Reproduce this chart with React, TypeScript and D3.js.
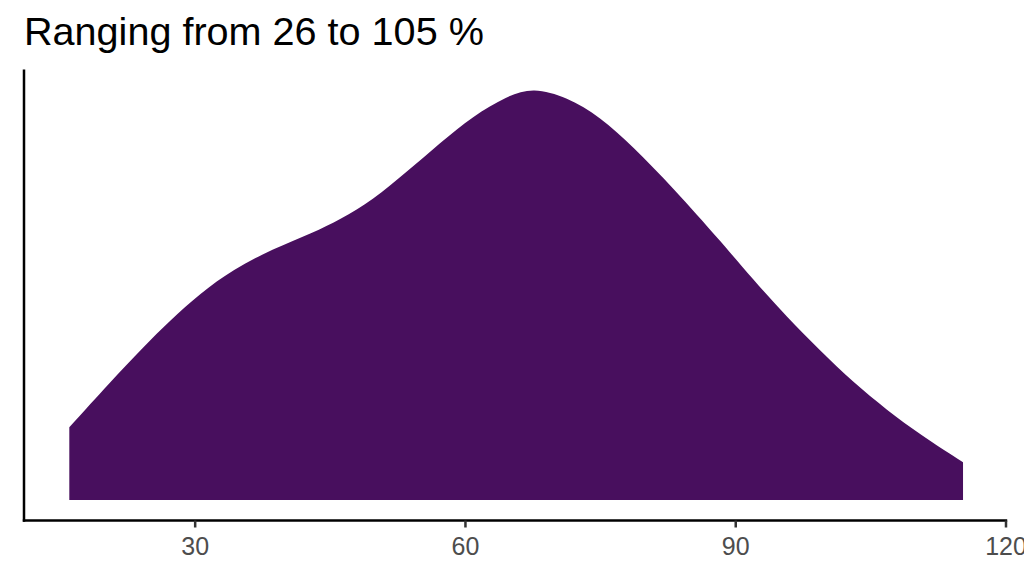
import React from "react";
import * as d3 from "d3";

const titleText = "Ranging from 26 to 105 %";
const xValues = [16.03, 20.55, 24.21, 27.21, 30.54, 34.2, 38.64, 43.08, 46.08, 49.74, 53.51, 57.18, 60.84, 64.61, 67.5, 71.27, 74.94, 78.6, 83.04, 88.26, 91.92, 95.7, 99.36, 103.02, 106.79, 110.56, 115.23];
const densityValues = [0.00277, 0.00448, 0.00581, 0.00683, 0.00786, 0.00877, 0.00956, 0.01017, 0.01067, 0.01142, 0.01249, 0.01359, 0.01461, 0.01537, 0.0157, 0.01533, 0.01458, 0.01344, 0.01188, 0.00987, 0.00839, 0.00695, 0.00569, 0.00448, 0.00342, 0.00247, 0.00144];
const xTicks = [30, 60, 90, 120];
const xDomain = [11, 120];

export default function App() {
  const W = 1024, H = 576;
  const x = d3.scaleLinear().domain(xDomain).range([24, 1006]);
  const maxD = 0.0156;
  const y = d3.scaleLinear().domain([-0.05 * maxD, 1.05 * maxD]).range([520.5, 69.5]);
  const data = xValues.map((v, i) => ({ v, d: densityValues[i] }));
  const area = d3
    .area<{ v: number; d: number }>()
    .x((p) => x(p.v))
    .y0(y(0))
    .y1((p) => y(p.d))
    .curve(d3.curveBasis);
  const path = area(data) as string;
  return (
    <svg width={W} height={H} style={{ position: "absolute", left: 0, top: 0, background: "#fff" }}
      fontFamily="'Liberation Sans', Arial, Helvetica, sans-serif">
      <rect width={W} height={H} fill="#fff" />
      <text x={24} y={45} fontSize={39.6} fill="#000">{titleText}</text>
      <path d={path} fill="#480F5E" />
      <line x1={x.range()[0]} x2={x.range()[0]} y1={y.range()[1]} y2={y.range()[0] + 1.2} stroke="#000" strokeWidth={2.5} />
      <line x1={x.range()[0] - 1.2} x2={x.range()[1] + 1.2} y1={y.range()[0]} y2={y.range()[0]} stroke="#000" strokeWidth={2.5} />
      {xTicks.map((t) => (
        <g key={t}>
          <line x1={x(t)} x2={x(t)} y1={y.range()[0]} y2={y.range()[0] + 7} stroke="#333" strokeWidth={2.5} />
          <text x={x(t)} y={555} fontSize={25} fill="#4D4D4D" textAnchor="middle">{t}</text>
        </g>
      ))}
    </svg>
  );
}
